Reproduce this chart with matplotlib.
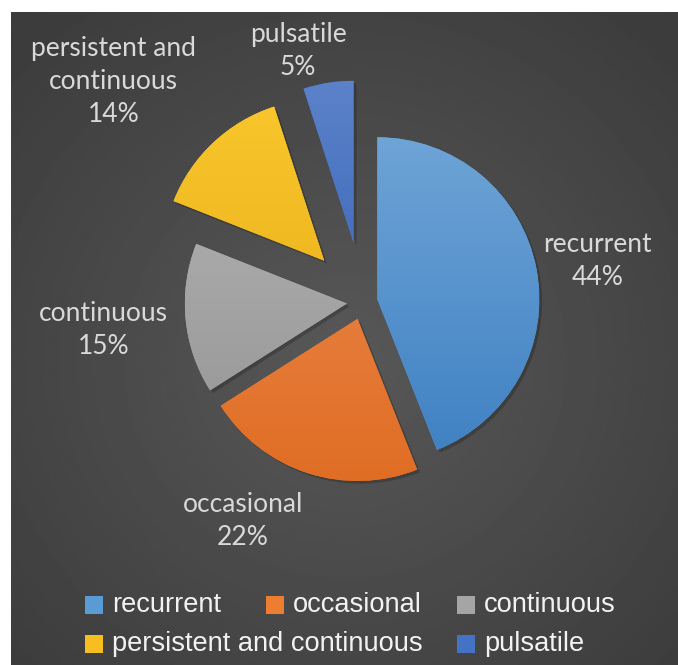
import numpy as np
import matplotlib.pyplot as plt
from matplotlib.patches import Rectangle
import matplotlib.patheffects as pe

# data
categories = ["recurrent", "occasional", "continuous", "persistent and continuous", "pulsatile"]
shares = [44, 22, 15, 14, 5]
label_texts = ["recurrent", "occasional", "continuous", "persistent and\ncontinuous", "pulsatile"]

# styling
colors = ["#5b9bd5", "#ed7d31", "#a5a5a5", "#f6bf1f", "#4472c4"]
tops = ["#6ea4d6", "#eb8b50", "#b2b2b2", "#f8c62c", "#5b82c9"]
bottoms = ["#3f81c3", "#e06d24", "#959595", "#e8ab17", "#2f5db3"]
explode = [0.09, 0.11, 0.1, 0.35, 0.37]
# label positions, offset from pie centre in radius units
label_pos = [(1.45, 0.25), (-0.74, -1.35), (-1.60, -0.17), (-1.54, 1.36), (-0.40, 1.55)]

W, H = 678, 665
R = 162.0           # pie radius in pixels
cx, cy = 363, 302   # pie centre in pixels (from top)

fig = plt.figure(figsize=(W / 100, H / 100), dpi=100)
fig.patch.set_facecolor("white")

# dark radial background
bg = fig.add_axes([11 / W, 0, 1 - 11 / W, 1 - 12 / H])
bg.set_axis_off()
yy, xx = np.mgrid[0:300, 0:300]
rr = np.hypot((xx - 150) / 150, (yy - 160) / 150)
bg.imshow(0.345 - 0.11 * np.clip(rr, 0, 1.4) / 1.4, cmap="gray", vmin=0, vmax=1,
          aspect="auto", extent=[0, 1, 0, 1], interpolation="bilinear")

ax = fig.add_axes([0, 0, 1, 1])
ax.set_axis_off()

wedges, _ = ax.pie(shares, colors=colors, explode=explode, startangle=90,
                   counterclock=False, radius=1.0)

for w, c1, c2 in zip(wedges, tops, bottoms):
    w.set_path_effects([pe.SimplePatchShadow(offset=(2, -2), shadow_rgbFace="black", alpha=0.2),
                        pe.Normal()])
    # vertical shading clipped to the slice
    grad = np.linspace(0, 1, 100).reshape(-1, 1)
    a = np.array(plt.matplotlib.colors.to_rgb(c1))
    b = np.array(plt.matplotlib.colors.to_rgb(c2))
    img = a + (b - a) * grad[:, :, None]
    x0 = w.center[0] - 1.0
    y0 = w.center[1] - 1.0
    im = ax.imshow(img, extent=[x0, x0 + 2, y0, y0 + 2], origin="upper",
                   aspect="auto", zorder=w.get_zorder() + 0.1)
    im.set_clip_path(w)

ax.set_xlim(-cx / R, (W - cx) / R)
ax.set_ylim(-(H - cy) / R, cy / R)

for txt, s, (lx, ly) in zip(label_texts, shares, label_pos):
    ax.text(lx, ly, f"{txt}\n{s}%", ha="center", va="center", color="#d9d9d9",
            fontsize=19, family="Lato", linespacing=1.4, zorder=10)

# legend, laid out like the original (row-wise)
leg_rows = [(605, [(85, 0), (266, 1), (457, 2)]), (644, [(85, 3), (457, 4)])]
for ypix, items in leg_rows:
    for xpix, i in items:
        fig.patches.append(Rectangle((xpix / W, 1 - (ypix + 9) / H), 18 / W, 18 / H,
                                     transform=fig.transFigure, facecolor=colors[i],
                                     edgecolor="none"))
        fig.text((xpix + 27) / W, 1 - ypix / H, categories[i], color="#f2f2f2",
                 fontsize=19.6, family="Liberation Sans", va="center", ha="left")

fig.savefig("out.png", dpi=100, facecolor="white")
